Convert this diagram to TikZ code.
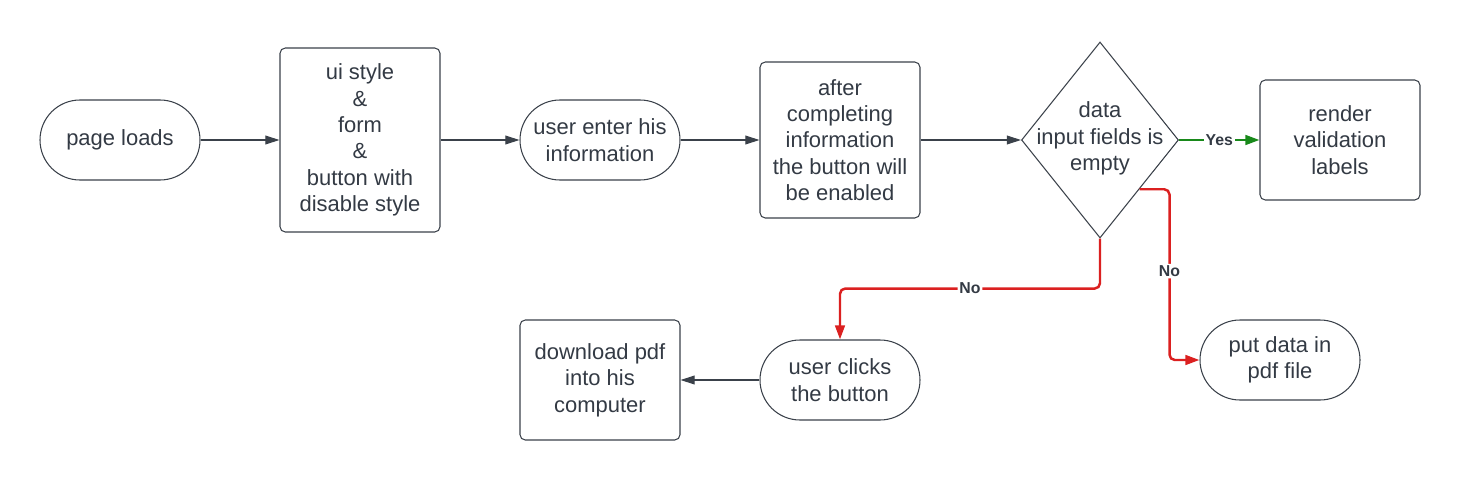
\documentclass[tikz,border=0pt]{standalone}
\usepackage{fontspec}
\setmainfont{Liberation Sans}
\usetikzlibrary{shapes.geometric,arrows.meta}
\definecolor{ink}{HTML}{3A414A}
\definecolor{txt}{HTML}{333A44}
\definecolor{yesgreen}{HTML}{18891A}
\definecolor{nored}{HTML}{DB2020}
\begin{document}
\begin{tikzpicture}[
  every node/.style={font=\fontsize{12.5}{15}\selectfont, text=txt},
  stadium/.style={draw=ink, line width=0.6pt, rectangle, rounded corners=0.8cm, minimum width=3.2cm, minimum height=1.6cm, align=center},
  box/.style={draw=ink, line width=0.6pt, rectangle, rounded corners=3pt, minimum width=3.2cm, align=center},
  decision/.style={draw=ink, line width=0.6pt, diamond, minimum width=3.14cm, minimum height=3.92cm, inner sep=0pt},
  flow/.style={draw=ink, line width=0.6pt, -{Triangle[length=8pt,width=5pt]}},
  yesflow/.style={draw=yesgreen, line width=1.4pt, -{Triangle[length=8pt,width=5.5pt]}},
  noflow/.style={draw=nored, line width=1.4pt, rounded corners=3pt, -{Triangle[length=8pt,width=5.5pt,sharp]}},
  lbl/.style={font=\bfseries\fontsize{9}{10}\selectfont, text=txt, fill=white, inner sep=1pt}
]
\useasboundingbox (0,0) rectangle (29.2,9.6);

\node[stadium] (load) at (2.4,6.8) {page loads};
\node[box, minimum height=3.68cm] (ui) at (7.2,6.8) {ui style\\\&\\form\\\&\\button with\\disable style};
\node[stadium] (enter) at (12,6.8) {user enter his\\information};
\node[box, minimum height=3.12cm] (after) at (16.8,6.8) {after\\completing\\information\\the button will\\be enabled};
\node[decision] (check) at (22,6.8) {\smash{\makebox[0pt]{\raisebox{-0.08cm}{\begin{tabular}{@{}c@{}}data\\input fields is\\empty\end{tabular}}}}};
\node[box, minimum height=2.4cm] (render) at (26.8,6.8) {render\\validation\\labels};
\node[stadium] (put) at (25.6,2.4) {put data in\\pdf file};
\node[stadium] (clicks) at (16.8,2.0) {user clicks\\the button};
\node[box, minimum height=2.4cm] (download) at (12,2.0) {download pdf\\into his\\computer};

\path[flow] (load) -- (ui);
\path[flow] (ui) -- (enter);
\path[flow] (enter) -- (after);
\path[flow] (after) -- (check);
\path[yesflow] (check.east) -- node[lbl] {Yes} (render.west);
\path[noflow] (check.south) -- ++(0,-1) -| node[pos=0.25, lbl] {No} (clicks.north);
\path[noflow] (check.south east) -- ++(0.6,0) |- node[pos=0.24, lbl] {No} (put.west);
\path[flow] (clicks) -- (download);
\end{tikzpicture}
\end{document}
